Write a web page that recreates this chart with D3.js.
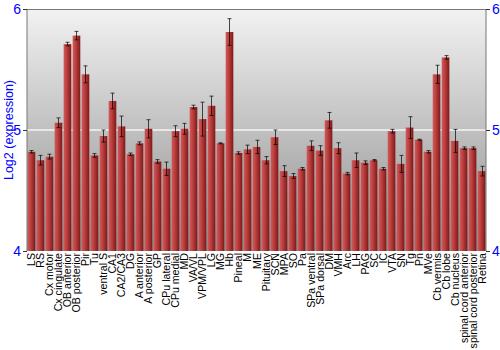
<!DOCTYPE html>
<html>
<head>
<meta charset="utf-8">
<script src="https://cdn.jsdelivr.net/npm/d3@7"></script>
<style>
  body { margin: 0; background: #fff; }
  svg { display: block; font-family: "Liberation Sans", Arial, sans-serif; }
</style>
</head>
<body>
<div id="chart"></div>
<script>
const regions = ["LS", "RS", "Cx motor", "Cx cingulate", "OB anterior", "OB posterior", "Pir", "Tu",
  "ventral S", "CA1", "CA2/CA3", "DG", "A anterior", "A posterior", "GP", "CPu lateral", "CPu medial",
  "MD", "VA/VL", "VPM/VPL", "LG", "MG", "Hb", "Pineal", "M", "ME", "Pituitary", "SCN", "MPA", "SO",
  "Pa", "SPa ventral", "SPa dorsal", "DM", "VMH", "Arc", "LH", "PAG", "SC", "IC", "VTA", "SN", "Tg",
  "Pn", "MVe", "Cb vermis", "Cb lobe", "Cb nucleus", "spinal cord anterior", "spinal cord posterior", "Retina"];

const expression = [4.82, 4.75, 4.78, 5.06, 5.71, 5.78, 5.46, 4.79,
  4.95, 5.24, 5.03, 4.80, 4.89, 5.01, 4.74, 4.68, 4.99,
  5.01, 5.19, 5.09, 5.20, 4.89, 5.81, 4.81, 4.84, 4.86, 4.75, 4.94, 4.66, 4.62,
  4.68, 4.87, 4.83, 5.08, 4.85, 4.64, 4.75, 4.73, 4.75, 4.68, 4.99, 4.72, 5.02,
  4.92, 4.82, 5.46, 5.60, 4.91, 4.85, 4.85, 4.66];

const errors = [0.01, 0.04, 0.02, 0.04, 0.015, 0.035, 0.07, 0.015,
  0.05, 0.065, 0.085, 0.01, 0.012, 0.075, 0.015, 0.055, 0.045,
  0.045, 0.015, 0.14, 0.08, 0.004, 0.11, 0.01, 0.035, 0.055, 0.03, 0.06, 0.045, 0.02,
  0.01, 0.04, 0.04, 0.065, 0.045, 0.01, 0.06, 0.015, 0.006, 0.01, 0.015, 0.07, 0.09,
  0.004, 0.01, 0.075, 0.015, 0.095, 0.01, 0.01, 0.04];

const yTicks = [4, 5, 6];

const width = 500, height = 350;
const margin = { top: 9, right: 14, bottom: 99, left: 27 };

const svg = d3.select("#chart").append("svg")
  .attr("width", width)
  .attr("height", height);

const defs = svg.append("defs");
const bg = defs.append("linearGradient").attr("id", "bg")
  .attr("x1", 0).attr("y1", 0).attr("x2", 0).attr("y2", 1);
bg.append("stop").attr("offset", "0%").attr("stop-color", "#f2f2f2");
bg.append("stop").attr("offset", "100%").attr("stop-color", "#8e8e8e");

const barGrad = defs.append("linearGradient").attr("id", "bar")
  .attr("x1", 0).attr("y1", 0).attr("x2", 1).attr("y2", 0);
barGrad.append("stop").attr("offset", "0%").attr("stop-color", "#d25a5a");
barGrad.append("stop").attr("offset", "45%").attr("stop-color", "#b83c3c");
barGrad.append("stop").attr("offset", "100%").attr("stop-color", "#7e1818");

const x = d3.scaleBand()
  .domain(regions)
  .range([margin.left, width - margin.right])
  .paddingInner(0.15)
  .paddingOuter(0.07);

const y = d3.scaleLinear()
  .domain([4, 6])
  .range([height - margin.bottom, margin.top]);

// plot background
svg.append("rect")
  .attr("x", margin.left)
  .attr("y", margin.top)
  .attr("width", width - margin.right - margin.left)
  .attr("height", y(4) - margin.top)
  .attr("fill", "url(#bg)");

// grid line at 5
svg.append("line")
  .attr("x1", margin.left).attr("x2", width - margin.right)
  .attr("y1", y(5)).attr("y2", y(5))
  .attr("stroke", "#f4f4f4")
  .attr("stroke-width", 1.5);

// bars
svg.append("g")
  .selectAll("rect")
  .data(expression)
  .join("rect")
  .attr("x", (d, i) => x(regions[i]))
  .attr("y", d => y(d))
  .attr("width", x.bandwidth())
  .attr("height", d => y(4) - y(d))
  .attr("fill", "url(#bar)");

// error bars
const err = svg.append("g")
  .attr("stroke", "#000")
  .attr("stroke-opacity", 0.7)
  .attr("stroke-width", 1);

expression.forEach((v, i) => {
  const cx = Math.round(x(regions[i]) + x.bandwidth() / 2) + 0.5;
  const lo = y(v - errors[i]), hi = y(v + errors[i]);
  err.append("line").attr("x1", cx).attr("x2", cx).attr("y1", lo).attr("y2", hi);
  err.append("line").attr("x1", cx - 2).attr("x2", cx + 2).attr("y1", lo).attr("y2", lo);
  err.append("line").attr("x1", cx - 2).attr("x2", cx + 2).attr("y1", hi).attr("y2", hi);
});

// frame line at top
svg.append("line")
  .attr("x1", margin.left).attr("x2", width - margin.right)
  .attr("y1", margin.top + 0.5).attr("y2", margin.top + 0.5)
  .attr("stroke", "#777");

const yAxisLeft = d3.axisLeft(y).tickValues(yTicks).tickFormat(d3.format("d")).tickSize(4).tickPadding(2);
const yAxisRight = d3.axisRight(y).tickValues(yTicks).tickFormat(d3.format("d")).tickSize(4).tickPadding(2);

const gl = svg.append("g")
  .attr("transform", `translate(${margin.left},0)`)
  .call(yAxisLeft);
const gr = svg.append("g")
  .attr("transform", `translate(${width - margin.right},0)`)
  .call(yAxisRight);

[gl, gr].forEach(g => {
  g.select(".domain").attr("stroke", "#777").attr("d", `M0,${margin.top}V${y(4)}`);
  g.selectAll(".tick line").attr("stroke", "#333");
  g.selectAll(".tick text").attr("fill", "#0000ff").attr("font-size", 14);
});

svg.append("text")
  .attr("transform", `translate(13,${(margin.top + y(4)) / 2}) rotate(-90)`)
  .attr("text-anchor", "middle")
  .attr("fill", "#0000ff")
  .attr("font-size", 12.5)
  .text("Log2 (expression)");

// x labels
svg.append("g")
  .selectAll("text")
  .data(regions)
  .join("text")
  .attr("transform", d => `translate(${x(d) + x.bandwidth() / 2 + 4},${y(4) + 2}) rotate(-90)`)
  .attr("text-anchor", "end")
  .attr("font-size", 10.6)
  .attr("fill", "#000")
  .text(d => d);
</script>
</body>
</html>
